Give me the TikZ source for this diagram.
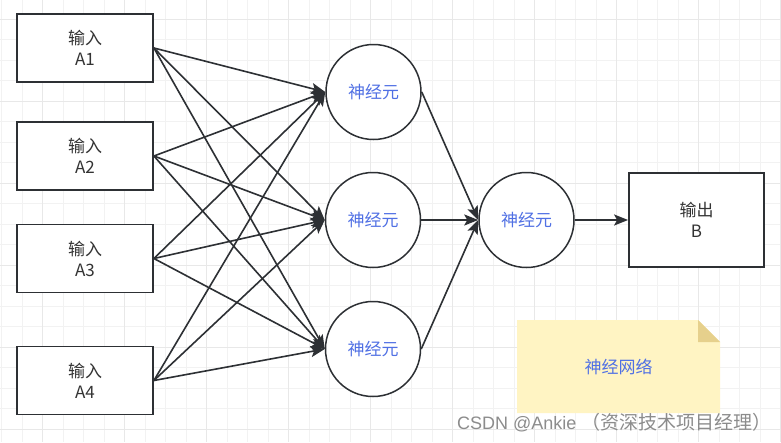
\documentclass[tikz,border=0pt]{standalone}
\usepackage{fontspec}
\setmainfont{Noto Sans CJK SC}
\newfontfamily\latfont{Liberation Sans}
\usetikzlibrary{arrows.meta}
\definecolor{gridminor}{RGB}{242,242,242}
\definecolor{gridmajor}{RGB}{232,232,232}
\definecolor{edgecol}{RGB}{45,48,52}
\definecolor{txtcol}{RGB}{51,51,51}
\definecolor{bluetxt}{RGB}{80,112,228}
\definecolor{notefill}{RGB}{255,244,195}
\definecolor{notefold}{RGB}{230,208,140}
\definecolor{wmcol}{RGB}{140,140,140}
\tikzset{
  inbox/.style={draw=edgecol, line width=1.8pt, fill=white, minimum width=136pt, minimum height=68pt, inner sep=0pt, align=center, text=txtcol, font=\fontsize{17pt}{21pt}\selectfont},
  neuron/.style={draw=edgecol, line width=1.5pt, fill=white, circle, minimum size=95pt, inner sep=0pt, text=bluetxt, font=\fontsize{17pt}{21pt}\selectfont},
  conn/.style={draw=edgecol, line width=1.6pt, -{Stealth[length=14pt,width=11pt,inset=3pt]}},
}
\begin{document}
\begin{tikzpicture}[x=1pt,y=-1pt]
\useasboundingbox (0,0) rectangle (781,442);
\fill[white] (0,0) rectangle (781,442);
% grid
\foreach \i in {0,...,38}{
  \pgfmathsetmacro\xx{1.5+20.5*\i}
  \draw[gridminor, line width=1pt] (\xx,0) -- (\xx,442);
}
\foreach \j in {0,...,22}{
  \pgfmathsetmacro\yy{-1.5+20.5*\j}
  \draw[gridminor, line width=1pt] (0,\yy) -- (781,\yy);
}
\foreach \i in {0,...,9}{
  \pgfmathsetmacro\xx{42.5+82*\i}
  \draw[gridmajor, line width=1pt] (\xx,0) -- (\xx,442);
}
\foreach \j in {0,...,5}{
  \pgfmathsetmacro\yy{19+82*\j}
  \draw[gridmajor, line width=1pt] (0,\yy) -- (781,\yy);
}
% input boxes
\node[inbox] (a1) at (85,48) {输入\\A1};
\node[inbox] (a2) at (85,156) {输入\\A2};
\node[inbox] (a3) at (85,258.5) {输入\\A3};
\node[inbox] (a4) at (85,380.5) {输入\\A4};
% neurons
\node[neuron] (n1) at (373.5,92) {神经元};
\node[neuron] (n2) at (373,220) {神经元};
\node[neuron] (n3) at (373,349) {神经元};
\node[neuron] (no) at (526.5,220) {神经元};
% output box
\node[inbox, minimum width=135pt, minimum height=94pt] (b) at (696.5,220) {输出\\B};
% note
\fill[notefill] (517,320) -- (698,320) -- (720,342) -- (720,413) -- (517,413) -- cycle;
\fill[notefold] (698,320) -- (720,342) -- (698,342) -- cycle;
\node[text=bluetxt, font=\fontsize{17pt}{21pt}\selectfont, inner sep=0pt] (notetxt) at (618.5,367) {神经网络};
% connectors
\foreach \s in {a1,a2,a3,a4}{
  \foreach \t in {n1,n2,n3}{
    \draw[conn] (\s.east) -- (\t.west);
  }
}
\foreach \s in {n1,n2,n3}{
  \draw[conn] (\s.east) -- (no.west);
}
\draw[conn] (no.east) -- (b.west);
% watermark
\node[anchor=west, text=wmcol, inner sep=0pt] (wm) at (457,423) {{\latfont\fontsize{18pt}{22pt}\selectfont CSDN @Ankie\ }{\fontsize{19pt}{22pt}\selectfont （资深技术项目经理）}};
\end{tikzpicture}
\end{document}
